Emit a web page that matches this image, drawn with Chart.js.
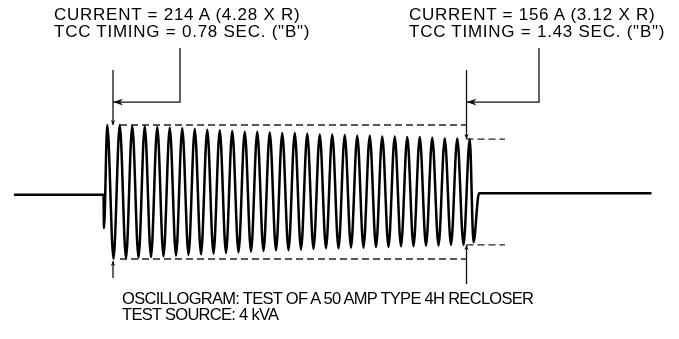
<!DOCTYPE html>
<html><head><meta charset="utf-8">
<script src="https://cdn.jsdelivr.net/npm/chart.js@4.4.1/dist/chart.umd.min.js"></script>
<style>
html,body{margin:0;padding:0;background:#fff;}
#wrap{position:relative;width:679px;height:339px;overflow:hidden;}
canvas{position:absolute;left:0;top:0;}
.lbl{position:absolute;font-family:"Liberation Sans",Arial,Helvetica,sans-serif;color:#000;white-space:nowrap;}
#l1,#l2{font-size:17px;line-height:17px;letter-spacing:0.75px;top:6px;}
#l1{left:54px;}
#l2{left:409px;}
#l3{left:122px;top:290px;font-size:16.5px;line-height:16px;letter-spacing:-0.7px;}
</style></head><body>
<div id="wrap">
<canvas id="c" width="679" height="339"></canvas>
<div class="lbl" id="l1">CURRENT = 214 A (4.28 X R)<br>TCC TIMING = 0.78 SEC. ("B")</div>
<div class="lbl" id="l2">CURRENT = 156 A (3.12 X R)<br>TCC TIMING = 1.43 SEC. ("B")</div>
<div class="lbl" id="l3">OSCILLOGRAM: TEST OF A 50 AMP TYPE 4H RECLOSER<br>TEST SOURCE: 4 kVA</div>
</div>
<script>
// ---- data (time in cycles, current in per-unit of first peak) ----
const traceStart = -7.16;
const faultStart = 0;
const faultEnd = 30.04;
const traceEnd = 43.84;
const preFaultLevel = -0.04;
const postFaultLevel = -0.02;
const initialDip = -0.54;
const finalDip = -0.75;
const topPeaks = [
  1.00,1.00,0.99,0.98,0.97,0.96,0.95,0.94,0.93,0.92,
  0.91,0.90,0.90,0.89,0.88,0.88,0.87,0.86,0.86,0.85,
  0.84,0.84,0.83,0.83,0.82,0.82,0.81,0.80,0.80,0.79
];
const bottomPeaks = [
  -1.00,-0.99,-0.98,-0.97,-0.96,-0.95,-0.94,-0.93,-0.92,-0.91,
  -0.90,-0.89,-0.88,-0.87,-0.87,-0.86,-0.85,-0.84,-0.84,-0.83,
  -0.83,-0.82,-0.82,-0.81,-0.81,-0.80,-0.80,-0.79,-0.79
];
const startEnvelope = [1.00, -1.00];
const endEnvelope = [0.79, -0.79];
const markerStart = 0.76;   // reading point for 0.78 s
const markerEnd = 29.04;    // reading point for 1.43 s

// ---- build trace ----
const trace = [
  {x: traceStart, y: preFaultLevel},
  {x: faultStart, y: preFaultLevel},
  {x: faultStart + 0.04, y: initialDip}
];
for (let i = 0; i < topPeaks.length; i++) {
  trace.push({x: faultStart + i + 0.3, y: topPeaks[i]});
  if (i < bottomPeaks.length) trace.push({x: faultStart + i + 0.8, y: bottomPeaks[i]});
}
trace.push({x: faultStart + topPeaks.length - 0.4, y: finalDip});
trace.push({x: faultEnd, y: postFaultLevel});
trace.push({x: traceEnd, y: postFaultLevel});

const envStartX = 1.32, envEndX = 32.12;
function seg(x0, x1, y) { return [{x: x0, y: y}, {x: x1, y: y}]; }
const dashStyle = {borderColor: '#222', borderWidth: 1.3, borderDash: [7, 4], pointRadius: 0, showLine: true, fill: false};

// annotation geometry (data units)
const calloutY = 1.343, calloutTop = 2.149, markerTop = 1.82;
const callLeftX = 6.12, callRightX = 34.84;
const annotations = [
  {pts: [[callLeftX, calloutTop], [callLeftX, calloutY], [markerStart, calloutY]], head: 'big'},
  {pts: [[callRightX, calloutTop], [callRightX, calloutY], [markerEnd, calloutY]], head: 'big'},
  {pts: [[markerStart, markerTop], [markerStart, startEnvelope[0]]], head: 'small'},
  {pts: [[markerStart, -1.284], [markerStart, startEnvelope[1] - 0.03]], head: 'small'},
  {pts: [[markerEnd, markerTop], [markerEnd, endEnvelope[0]]], head: 'small'},
  {pts: [[markerEnd, -1.373], [markerEnd, endEnvelope[1]]], head: 'small'}
];

const arrowPlugin = {
  id: 'arrows',
  afterDatasetsDraw(chart) {
    const ctx = chart.ctx, xs = chart.scales.x, ys = chart.scales.y;
    ctx.save();
    ctx.strokeStyle = '#111'; ctx.fillStyle = '#111'; ctx.lineWidth = 1.3;
    annotations.forEach(a => {
      const p = a.pts.map(q => [xs.getPixelForValue(q[0]), ys.getPixelForValue(q[1])]);
      ctx.beginPath();
      ctx.moveTo(p[0][0], p[0][1]);
      for (let i = 1; i < p.length; i++) ctx.lineTo(p[i][0], p[i][1]);
      ctx.stroke();
      const e = p[p.length - 1], s = p[p.length - 2];
      const ang = Math.atan2(e[1] - s[1], e[0] - s[0]);
      const len = a.head === 'big' ? 10 : 5, hw = a.head === 'big' ? 3.4 : 2.3;
      ctx.beginPath();
      ctx.moveTo(e[0], e[1]);
      ctx.lineTo(e[0] - len * Math.cos(ang) - hw * Math.sin(ang), e[1] - len * Math.sin(ang) + hw * Math.cos(ang));
      ctx.lineTo(e[0] - len * 0.7 * Math.cos(ang), e[1] - len * 0.7 * Math.sin(ang));
      ctx.lineTo(e[0] - len * Math.cos(ang) + hw * Math.sin(ang), e[1] - len * Math.sin(ang) - hw * Math.cos(ang));
      ctx.closePath();
      ctx.fill();
    });
    ctx.restore();
  }
};

new Chart(document.getElementById('c'), {
  type: 'scatter',
  data: {
    datasets: [
      Object.assign({data: seg(envStartX, markerEnd, startEnvelope[0])}, dashStyle),
      Object.assign({data: seg(envStartX, markerEnd, startEnvelope[1])}, dashStyle),
      Object.assign({data: seg(markerEnd, envEndX, endEnvelope[0])}, dashStyle),
      Object.assign({data: seg(markerEnd, envEndX, endEnvelope[1])}, dashStyle),
      {data: trace, showLine: true, borderColor: '#000', borderWidth: 2.5, pointRadius: 0, cubicInterpolationMode: 'monotone', fill: false}
    ]
  },
  options: {
    responsive: false,
    devicePixelRatio: 1,
    animation: false,
    layout: {padding: 0},
    plugins: {legend: {display: false}, tooltip: {enabled: false}},
    scales: {
      x: {type: 'linear', display: false, min: -8.28, max: 46.04},
      y: {type: 'linear', display: false, min: -2.194, max: 2.866}
    }
  },
  plugins: [arrowPlugin]
});
</script>
</body></html>
